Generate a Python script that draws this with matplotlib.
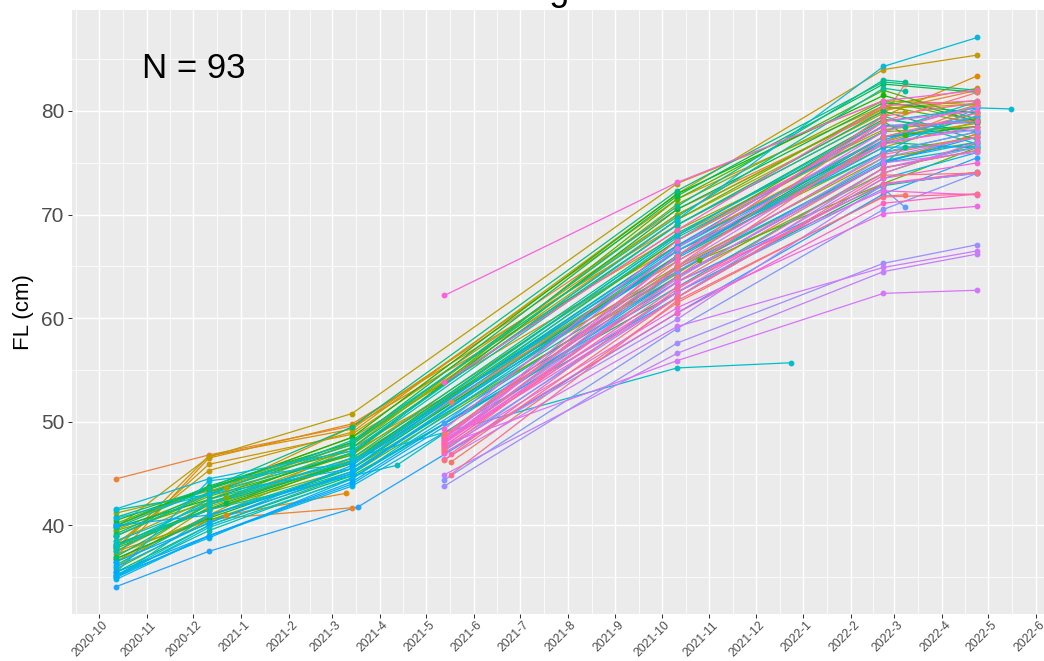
"""Fork length of tagged fish over time, one line per individual."""

import datetime as dt

import matplotlib
matplotlib.use("Agg")
import matplotlib.dates as mdates
import matplotlib.pyplot as plt
import matplotlib.transforms as mtransforms
import numpy as np
from matplotlib.ticker import FixedLocator, FuncFormatter

# ---------------------------------------------------------------------------
# Data: fork length (cm) per tagged fish at each sampling event.
# None = fish not caught on that trip.
# ---------------------------------------------------------------------------

# Autumn 2020 release group
A_DATES = ["2020-10-12", "2020-12-11", "2021-03-14", "2021-10-11",
           "2022-02-22", "2022-03-08", "2022-04-24"]
A_TAGS = [4, 5, 6, 8, 9, 10, 11, 12, 13, 14, 15, 16, 17, 18, 19, 21, 22, 23,
          25, 26, 28, 29, 30, 31, 32, 34, 35, 36, 37, 38, 39, 40, 41, 42, 43,
          44, 45, 46, 49, 51, 52, 53, 54, 55, 56, 57, 58, 59, 60]
A_FL = [
    [38.0, 41.5, 46.0, 66.0, 77.0, None, 80.5],
    [44.5, 46.8, 49.6, 70.5, 80.0, None, 82.0],
    [36.8, 40.6, 41.7, None, None, None, None],
    [37.0, 46.5, 49.8, 69.0, 79.5, None, 83.4],
    [39.0, 43.0, 49.5, 68.0, 78.0, None, 80.6],
    [36.5, 41.0, 47.5, 64.5, 75.0, None, 77.8],
    [37.8, 46.7, 49.3, 71.5, 80.5, None, 82.2],
    [40.0, 43.5, 48.5, 67.0, 77.5, None, 78.8],
    [37.8, 45.9, 48.8, 70.0, 80.3, None, 80.6],
    [38.2, 45.3, 49.0, 72.0, 84.0, None, 85.4],
    [37.5, 42.0, 47.0, 65.5, 77.0, None, 79.5],
    [39.8, 46.6, 50.8, 73.0, 81.0, None, 80.6],
    [41.2, 43.3, 47.8, 69.5, 79.8, 79.9, None],
    [36.0, 41.8, 46.3, 66.5, 76.5, None, 79.0],
    [38.5, 42.5, 48.0, 68.5, 78.2, None, 79.2],
    [37.2, 40.8, 46.5, 66.0, 76.0, None, 77.5],
    [40.0, 43.6, 48.0, 70.0, 80.2, None, 81.0],
    [36.5, 42.2, 46.0, 65.0, 75.5, None, 77.0],
    [38.0, 41.5, 45.5, 64.0, 74.0, None, 76.9],
    [40.2, 43.7, 47.2, 69.5, 80.5, None, 78.8],
    [39.0, 42.8, 46.8, 71.5, 82.0, None, 79.2],
    [37.8, 41.5, 46.0, 67.5, 79.0, 77.7, None],
    [40.5, 43.5, 48.5, 72.0, 81.5, None, 79.0],
    [36.8, 40.7, 45.5, 66.0, 77.5, None, 78.5],
    [39.8, 42.5, 47.0, 70.5, 80.8, None, 79.8],
    [40.0, 43.8, 48.0, 71.8, 82.6, None, 81.8],
    [35.5, 40.0, 44.8, 62.5, 72.8, None, 74.1],
    [39.2, 43.2, 47.5, 69.0, 80.0, None, 77.2],
    [37.0, 42.0, 46.0, 67.0, 77.0, None, 76.4],
    [40.8, 43.6, 49.5, 72.3, 82.8, None, 82.0],
    [36.2, 41.0, 45.2, 64.8, 74.9, 76.5, None],
    [39.8, 43.5, 47.8, 70.8, 83.0, 82.8, None],
    [38.0, 42.2, 46.5, 68.2, 78.5, 78.5, None],
    [41.5, 43.0, 48.2, 69.8, 82.2, 81.9, None],
    [35.2, 39.5, 44.6, 63.0, 74.5, None, 76.2],
    [39.0, 43.0, 47.0, 69.0, 79.5, None, 76.8],
    [37.5, 42.5, 46.2, 66.5, 76.0, None, 78.0],
    [35.0, 41.0, 45.5, 67.8, 78.0, None, 80.9],
    [35.0, 39.8, 44.5, 66.0, 76.8, None, 79.5],
    [41.6, 44.5, 47.2, 69.5, 84.3, None, 87.1],
    [35.5, 44.3, 46.0, 68.0, 79.0, None, 80.3],
    [40.7, 43.0, 45.5, 66.8, 77.5, None, 78.2],
    [34.8, 39.0, 43.8, 62.0, 73.5, None, 76.0],
    [35.2, 38.8, 44.5, 64.5, 75.2, None, 77.0],
    [36.0, 40.3, 45.2, 65.8, 76.5, None, 76.6],
    [35.0, 39.0, 44.0, 63.5, 72.9, None, 74.0],
    [40.0, 41.0, 45.0, 66.0, 77.2, None, 79.9],
    [36.5, 40.2, 45.8, 67.0, 78.6, None, 78.9],
    [35.5, 39.0, 44.2, 64.0, 75.0, None, 77.5],
]

# same group, second December trip
A_LATE_DATES = ["2020-10-12", "2020-12-22", "2021-03-14", "2021-10-11",
                "2022-02-22", "2022-03-08", "2022-04-24"]
A_LATE_TAGS = [20, 24, 33]
A_LATE_FL = [
    [39.6, 43.6, 46.8, 67.5, 78.0, None, 78.5],
    [39.5, 42.7, 47.5, 71.0, 81.0, None, 79.0],
    [38.2, 42.2, 46.2, 68.0, 79.2, None, 78.0],
]

# Spring 2021 release group
B_DATES = ["2021-05-13", "2021-10-11", "2022-02-22", "2022-03-08", "2022-04-24"]
B_TAGS = [1, 62, 63, 64, 65, 66, 67, 68, 69, 70, 71, 72, 73, 74, 75, 76, 77,
          78, 79, 80, 81, 82, 83, 84, 85, 86, 87, 89, 91, 92, 93]
B_FL = [
    [48.2, 63.5, 75.0, None, 77.8],
    [49.9, 66.5, 77.5, None, 79.5],
    [47.2, 62.5, 72.5, 70.7, None],
    [48.0, 64.5, 76.0, None, 78.0],
    [44.4, 59.0, 70.5, None, 74.0],
    [47.5, 62.0, 74.5, None, 76.5],
    [43.8, 57.6, 65.3, None, 67.1],
    [48.3, 63.8, 75.5, None, 77.5],
    [47.0, 59.9, 72.9, None, 74.0],
    [44.9, 56.6, 64.5, None, 66.2],
    [48.5, 65.0, 77.0, None, 78.2],
    [46.4, 59.2, 64.9, None, 66.5],
    [47.8, 55.9, 62.4, None, 62.7],
    [48.0, 66.0, 78.0, None, 80.5],
    [47.6, 64.0, 75.0, None, 76.0],
    [48.2, 62.5, 74.0, None, 77.0],
    [47.4, 61.0, 70.1, None, 70.8],
    [48.5, 66.8, 79.0, None, 80.0],
    [47.9, 63.5, 72.3, None, 71.9],
    [62.2, 73.1, 81.0, None, 82.0],
    [48.1, 62.0, 73.5, None, 75.0],
    [49.3, 67.5, 78.5, None, 79.0],
    [47.0, 60.5, 71.1, None, 72.0],
    [48.4, 65.5, 76.8, None, 78.5],
    [53.8, 68.5, 80.5, None, 81.0],
    [47.7, 63.0, 73.0, None, 74.1],
    [48.0, 64.8, 75.8, None, 77.5],
    [48.6, 66.0, 79.5, None, 80.8],
    [47.3, 64.0, 77.5, None, 79.8],
    [46.3, 62.0, 73.8, None, 74.0],
    [48.8, 65.0, 79.0, None, 81.8],
]

B_LATE_DATES = ["2021-05-17", "2021-10-11", "2022-02-22", "2022-03-08", "2022-04-24"]
B_LATE_TAGS = [2, 3, 88, 90]
B_LATE_FL = [
    [46.1, 61.5, 71.8, 71.9, None],
    [51.9, 66.0, 79.5, 82.6, None],
    [46.9, 62.8, 74.5, None, 76.2],
    [44.9, 61.7, 71.7, None, 72.0],
]

# fish caught off the regular schedule
ODD_TAGS = [7, 27, 47, 48, 50, 61]
ODD_DATES = [
    ["2020-10-12", "2020-12-22", "2021-03-10"],
    ["2020-10-12", "2020-12-11", "2021-03-14", "2021-10-25", "2022-02-22", "2022-04-24"],
    ["2020-10-12", "2020-12-11", "2021-04-12", "2021-10-11", "2022-02-22", "2022-04-24"],
    ["2020-10-12", "2020-12-11", "2021-03-14", "2021-10-11", "2021-12-24"],
    ["2020-10-12", "2020-12-11", "2021-03-14", "2021-10-11", "2022-02-22",
     "2022-04-24", "2022-05-16"],
    ["2020-10-12", "2020-12-11", "2021-03-18", "2021-10-11", "2022-02-22", "2022-04-24"],
]
ODD_FL = [
    [37.5, 41.0, 43.1],
    [35.8, 40.5, 45.0, 65.6, 73.0, 76.5],
    [38.0, 41.5, 45.8, 64.0, 75.0, 76.5],
    [38.5, 42.0, 46.5, 55.2, 55.7],
    [35.2, 40.0, 45.0, 66.5, 76.0, 80.3, 80.2],
    [34.1, 37.5, 41.8, 60.5, 72.0, 75.5],
]


def hue_pal(n, c=100.0, l=65.0):
    """Evenly spaced HCL hues (CIE-LUV, D65), like ggplot's default palette."""
    h = np.deg2rad(np.linspace(15, 375, n + 1)[:-1])
    u = c * np.cos(h)
    v = c * np.sin(h)
    xn, yn, zn = 95.047, 100.0, 108.883
    un = 4 * xn / (xn + 15 * yn + 3 * zn)
    vn = 9 * yn / (xn + 15 * yn + 3 * zn)
    y = yn * ((l + 16) / 116) ** 3
    up = u / (13 * l) + un
    vp = v / (13 * l) + vn
    x = y * 9 * up / (4 * vp)
    z = y * (12 - 3 * up - 20 * vp) / (4 * vp)
    m = np.array([[3.240479, -1.537150, -0.498535],
                  [-0.969256, 1.875992, 0.041556],
                  [0.055648, -0.204043, 1.057311]])
    rgb = m @ (np.stack([x, np.full_like(x, y), z]) / 100)
    rgb = np.where(rgb <= 0.0031308, 12.92 * rgb,
                   1.055 * np.abs(rgb) ** (1 / 2.4) - 0.055)
    return np.clip(rgb.T, 0, 1)


def to_num(s):
    return mdates.date2num(dt.date.fromisoformat(s))


# collect every fish as (x, y) pairs keyed by tag
fish = {}
for dates, tags, rows in [(A_DATES, A_TAGS, A_FL),
                          (A_LATE_DATES, A_LATE_TAGS, A_LATE_FL),
                          (B_DATES, B_TAGS, B_FL),
                          (B_LATE_DATES, B_LATE_TAGS, B_LATE_FL)]:
    for tag, row in zip(tags, rows):
        pts = [(to_num(d), val) for d, val in zip(dates, row) if val is not None]
        fish[tag] = pts
for tag, dates, row in zip(ODD_TAGS, ODD_DATES, ODD_FL):
    fish[tag] = [(to_num(d), val) for d, val in zip(dates, row)]

order = sorted(fish)
colors = hue_pal(len(order))

plt.rcParams["font.family"] = ["Liberation Sans", "DejaVu Sans"]

fig = plt.figure(figsize=(10.44, 6.61), dpi=100)
# panel runs a little past the right edge of the canvas
ax = fig.add_axes([0.0687, 0.0711, 0.9428, 0.9138])
ax.set_facecolor("#EBEBEB")
for sp in ax.spines.values():
    sp.set_visible(False)

for tag, col in zip(order, colors):
    xs, ys = zip(*fish[tag])
    ax.plot(xs, ys, color=col, lw=0.9, zorder=2, solid_capstyle="butt")
for tag, col in zip(order, colors):
    xs, ys = zip(*fish[tag])
    ax.plot(xs, ys, "o", color=col, ms=4.2, mec="none", zorder=3)

ax.set_xlim(to_num("2020-09-13"), to_num("2022-06-14"))
ax.set_ylim(31.45, 89.75)

# monthly breaks, minor breaks halfway between them
months = [dt.date(2020 + (9 + k - 1) // 12, (9 + k - 1) % 12 + 1, 1) for k in range(23)]
month_nums = [mdates.date2num(m) for m in months]
ax.xaxis.set_major_locator(FixedLocator(month_nums[1:-1]))
ax.xaxis.set_minor_locator(FixedLocator(
    [(a + b) / 2 for a, b in zip(month_nums[:-1], month_nums[1:])]))
ax.xaxis.set_major_formatter(FuncFormatter(
    lambda x, pos: f"{mdates.num2date(x).year}-{mdates.num2date(x).month}"))

ax.set_yticks([40, 50, 60, 70, 80])
ax.set_yticks([35, 45, 55, 65, 75, 85], minor=True)

ax.grid(which="major", color="white", lw=1.07)
ax.grid(which="minor", color="white", lw=0.55)
ax.set_axisbelow(True)

ax.tick_params(which="major", length=2.75, width=0.75, color="#333333")
ax.tick_params(which="minor", length=0)
ax.tick_params(axis="y", labelsize=15, labelcolor="#4D4D4D", pad=2.5)
ax.tick_params(axis="x", labelsize=8.8, labelcolor="#4D4D4D", pad=1.0)

shift = mtransforms.ScaledTranslation(0.11, 0, fig.dpi_scale_trans)
for lab in ax.get_xticklabels():
    lab.set_rotation(45)
    lab.set_ha("right")
    lab.set_va("top")
    lab.set_transform(lab.get_transform() + shift)

ax.set_ylabel("FL (cm)", fontsize=16, color="black", labelpad=5)

ax.text(to_num("2020-12-01"), 83.2, f"N = {len(fish)}", ha="center",
        va="baseline", fontsize=25, color="black")

# title sits above the top edge of the canvas
fig.text(0.5335, 1.0, "Sturgeon", ha="center", va="baseline", fontsize=26)

fig.savefig("out.png", dpi=100)
